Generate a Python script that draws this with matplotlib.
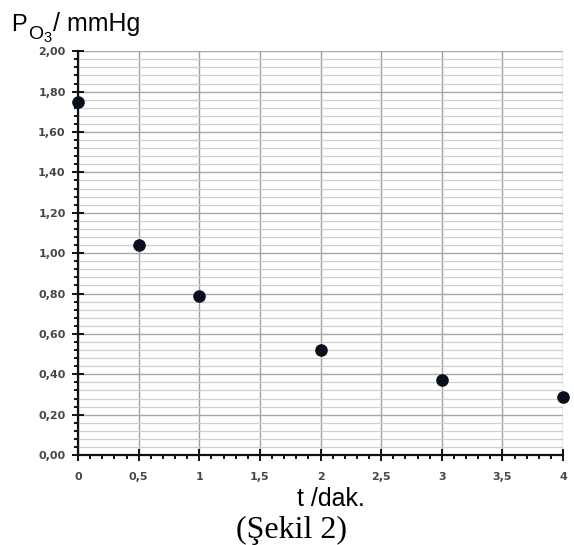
import matplotlib.pyplot as plt
from matplotlib.ticker import MultipleLocator, FuncFormatter

# data
t = [0, 0.5, 1, 2, 3, 4]
p_o3 = [1.75, 1.04, 0.79, 0.52, 0.37, 0.29]

W, H = 574, 545
fig = plt.figure(figsize=(W / 100, H / 100), dpi=100)
ax = fig.add_axes([0.136, 0.165, 0.845, 0.741])

ax.set_xlim(0, 4)
ax.set_ylim(0, 2)

ax.xaxis.set_major_locator(MultipleLocator(0.5))
ax.xaxis.set_minor_locator(MultipleLocator(0.1))
ax.yaxis.set_major_locator(MultipleLocator(0.2))
ax.yaxis.set_minor_locator(MultipleLocator(0.04))

# comma decimals
ax.xaxis.set_major_formatter(FuncFormatter(lambda v, p: ('%g' % v).replace('.', ',')))
ax.yaxis.set_major_formatter(FuncFormatter(lambda v, p: ('%.2f' % v).replace('.', ',')))

# grid
ax.grid(which='major', axis='y', color='#a8a8a8', linewidth=1.0)
ax.grid(which='minor', axis='y', color='#cfcfcf', linewidth=0.9)
ax.grid(which='major', axis='x', color='#a0a0a0', linewidth=1.0)
ax.set_axisbelow(True)

for s in ['top', 'right']:
    ax.spines[s].set_visible(False)
for s in ['left', 'bottom']:
    ax.spines[s].set_linewidth(1.6)
    ax.spines[s].set_color('#111111')

ax.tick_params(which='major', direction='inout', length=8, width=1.4, color='#111111',
               labelsize=8, labelcolor='#474747')
ax.tick_params(which='minor', direction='out', length=3, width=1.4, color='#111111')
ax.tick_params(axis='x', which='major', pad=8)
ax.tick_params(axis='y', which='major', pad=5)
for lab in ax.get_xticklabels() + ax.get_yticklabels():
    lab.set_fontweight('bold')

ax.scatter(t, p_o3, s=65, color='#0a0f1e', zorder=5, clip_on=False)

# axis titles placed by pixel position
def px(x, y):
    return x / W, 1 - y / H

fig.text(*px(11, 31), 'P', fontsize=17, family='Liberation Sans', ha='left', va='baseline')
fig.text(*px(28, 39), 'O', fontsize=14, family='Liberation Sans', ha='left', va='baseline')
fig.text(*px(43, 42), '3', fontsize=10.5, family='Liberation Sans', ha='left', va='baseline')
fig.text(*px(53, 31), '/ mmHg', fontsize=18, family='Liberation Sans', ha='left', va='baseline')

fig.text(*px(331, 506), 't /dak.', fontsize=18, family='Liberation Sans', ha='center', va='baseline')
fig.text(*px(291, 538), '(Şekil 2)', fontsize=23, family='Liberation Serif', ha='center', va='baseline')

fig.savefig('out.png', dpi=100)
